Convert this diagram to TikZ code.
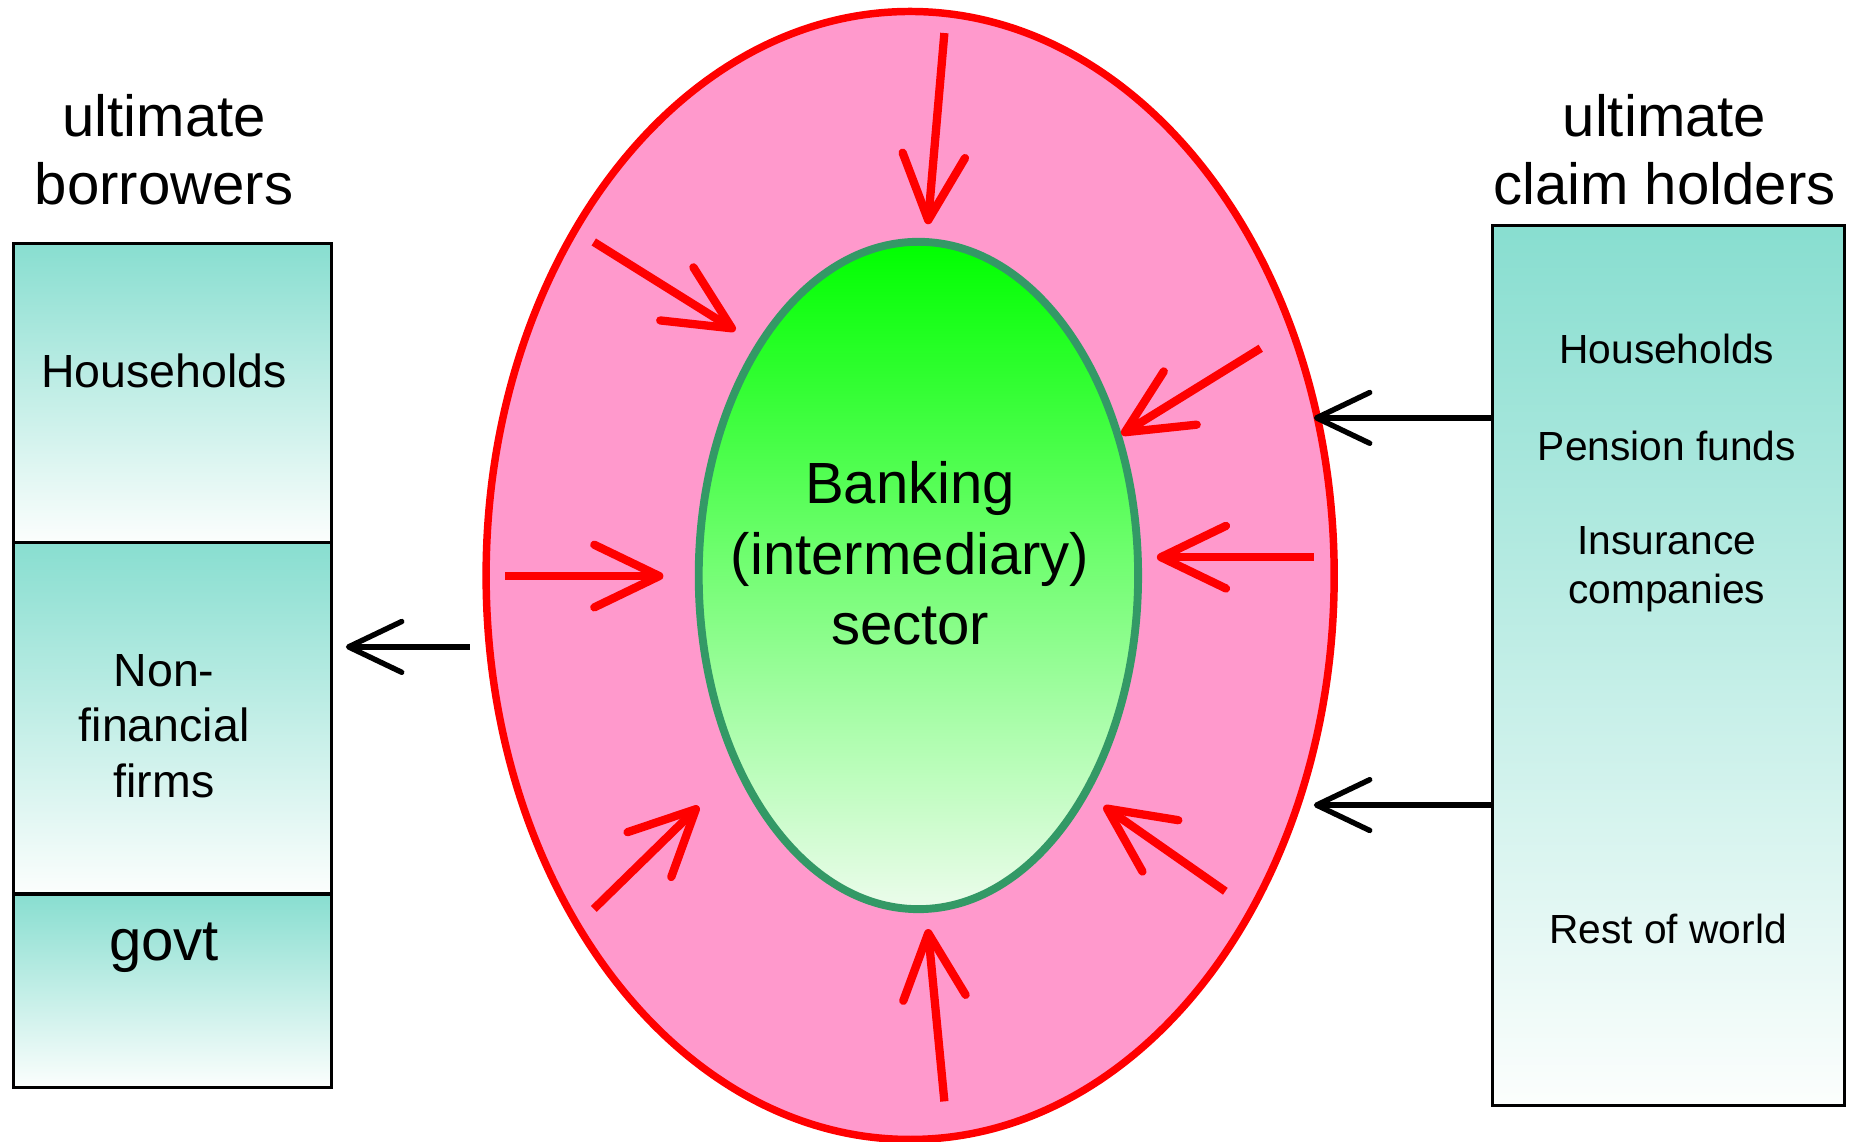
\documentclass[tikz,border=0pt]{standalone}
\usepackage{fontspec}
\setmainfont{Liberation Sans}
\usetikzlibrary{shapes.geometric,arrows.meta}
\definecolor{ringpink}{RGB}{255,153,204}
\definecolor{ringred}{RGB}{255,0,0}
\definecolor{bankedge}{RGB}{51,153,102}
\definecolor{bankgreen}{RGB}{0,255,0}
\definecolor{bankpale}{RGB}{236,252,236}
\definecolor{tealtop}{RGB}{136,222,208}
\definecolor{tealbot}{RGB}{252,254,253}
\begin{document}
\begin{tikzpicture}[x=0.01cm,y=-0.01cm,
  sectorbox/.style={draw=black,line width=0.75pt,rectangle,anchor=north west,
    top color=tealtop,bottom color=tealbot,inner sep=0pt},
  bigtext/.style={font=\fontsize{14}{16.5}\selectfont,align=center},
  midtext/.style={font=\fontsize{11.2}{13.4}\selectfont,align=center},
  smalltext/.style={font=\fontsize{9.8}{11.7}\selectfont,align=center},
  redarrow/.style={draw=ringred,line width=2pt,
    -{Straight Barb[length=0.55cm,width=0.53cm,line width=2pt,round]}},
  blkarrow/.style={draw=black,line width=1.3pt,
    -{Straight Barb[length=0.45cm,width=0.43cm,line width=1.3pt,round]}}]
\useasboundingbox (0,0) rectangle (1568,967);

% outer ring and inner banking sector
\node[ellipse,draw=ringred,line width=1.8pt,fill=ringpink,
  minimum width=7.18cm,minimum height=9.55cm,inner sep=0pt] (ring) at (771,487.5) {};
\node[ellipse,draw=bankedge,line width=1.9pt,top color=bankgreen,bottom color=bankpale,
  minimum width=3.72cm,minimum height=5.65cm,inner sep=0pt] (bank) at (778,487.5) {};
\node[bigtext,font=\fontsize{14}{17}\selectfont] (banktxt) at (771,469) {Banking\\(intermediary)\\sector};

% titles
\node[bigtext] (ltitle) at (139,127) {ultimate\\borrowers};
\node[bigtext] (rtitle) at (1410,127) {ultimate\\claim holders};

% left boxes
\node[sectorbox,minimum width=2.69cm,minimum height=2.53cm] (hh) at (10,205) {};
\node[sectorbox,minimum width=2.69cm,minimum height=2.98cm] (nf) at (10,458) {};
\node[sectorbox,minimum width=2.69cm,minimum height=1.64cm] (gov) at (10,756) {};
\node[midtext] (hhtxt) at (139,314) {Households};
\node[midtext] (nftxt) at (139,615) {Non-\\financial\\firms};
\node[bigtext] (govtxt) at (139,803) {govt};

% right box
\node[sectorbox,minimum width=2.98cm,minimum height=7.45cm] (rbox) at (1263,190) {};
\node[smalltext] (r1) at (1412,296) {Households};
\node[smalltext] (r2) at (1412,378) {Pension funds};
\node[smalltext] (r3) at (1412,482) {Insurance\\companies};
\node[smalltext] (r4) at (1413,787) {Rest of world};

% black arrows
\coordinate (ls) at (398,548);
\coordinate (lt) at (293,548);
\coordinate (rt1) at (1113,354);
\coordinate (rt2) at (1113,682);
\draw[blkarrow] (ls) -- (lt);
\draw[blkarrow] (rbox.west |- rt1) -- (rt1);
\draw[blkarrow] (rbox.west |- rt2) -- (rt2);

% red arrows into the banking sector
\coordinate (a1s) at (800,28);   \coordinate (a1t) at (786,190);
\coordinate (a2s) at (503,205);  \coordinate (a2t) at (623,280);
\coordinate (a3s) at (1068,295); \coordinate (a3t) at (950,368);
\coordinate (a4s) at (428,488);  \coordinate (a4t) at (562,488);
\coordinate (a5s) at (1113,472); \coordinate (a5t) at (980,472);
\coordinate (a6s) at (503,770);  \coordinate (a6t) at (592,683);
\coordinate (a7s) at (1038,755); \coordinate (a7t) at (935,683);
\coordinate (a8s) at (800,933);  \coordinate (a8t) at (786,787);
\foreach \i in {1,...,8}{\draw[redarrow] (a\i s) -- (a\i t);}
\end{tikzpicture}
\end{document}
